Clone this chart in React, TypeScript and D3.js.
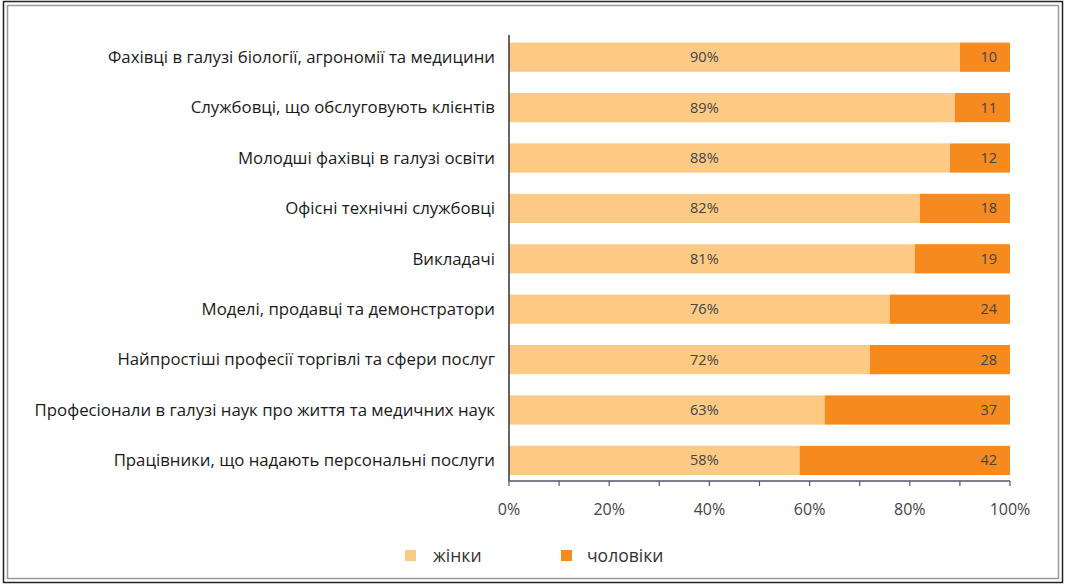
import React from "react";
import * as d3 from "d3";

const categories = [
  "Фахівці в галузі біології, агрономії та медицини",
  "Службовці, що обслуговують клієнтів",
  "Молодші фахівці в галузі освіти",
  "Офісні технічні службовці",
  "Викладачі",
  "Моделі, продавці та демонстратори",
  "Найпростіші професії торгівлі та сфери послуг",
  "Професіонали в галузі наук про життя та медичних наук",
  "Працівники, що надають персональні послуги",
];
const women = [90, 89, 88, 82, 81, 76, 72, 63, 58];
const men = [10, 11, 12, 18, 19, 24, 28, 37, 42];
const xTicks = [0, 20, 40, 60, 80, 100];
const minorTicks = [0, 10, 20, 30, 40, 50, 60, 70, 80, 90, 100];
const seriesNames = ["жінки", "чоловіки"];

const W = 1065;
const H = 585;
const C_WOMEN = "#FDCA86";
const C_MEN = "#F68A1F";
const FONT = "'Open Sans', 'Noto Sans', sans-serif";

export default function App() {
  const x = d3.scaleLinear().domain([0, 100]).range([509, 1010]);
  const y = d3
    .scaleBand<string>()
    .domain(categories)
    .range([32, 485.6])
    .paddingInner(0.42)
    .paddingOuter(0.21);
  const bw = y.bandwidth();
  const axisY = 481;

  return (
    <svg
      width={W}
      height={H}
      style={{ position: "absolute", left: 0, top: 0, background: "#fff" }}
      fontFamily={FONT}
    >
      <rect x={0} y={0} width={W} height={H} fill="#fff" />
      <rect x={3.5} y={1.5} width={1059} height={581} fill="none" stroke="#222" strokeWidth={1.5} />
      <rect x={7.5} y={5.5} width={1051} height={573} fill="none" stroke="#999" strokeWidth={1.5} />

      {categories.map((c, i) => {
        const yy = y(c)!;
        const cy = yy + bw / 2;
        return (
          <g key={c}>
            <rect x={x(0)} y={yy} width={x(women[i]) - x(0)} height={bw} fill={C_WOMEN} />
            <rect x={x(women[i])} y={yy} width={x(100) - x(women[i])} height={bw} fill={C_MEN} />
            <text x={x(39)} y={cy} dy="0.35em" textAnchor="middle" fontSize={14.5} fill="#444">
              {women[i]}%
            </text>
            <text x={x(100) - 13} y={cy} dy="0.35em" textAnchor="end" fontSize={14.5} fill="#444">
              {men[i]}
            </text>
            <text x={495} y={cy} dy="0.35em" textAnchor="end" fontSize={16.8} fill="#1a1a1a">
              {c}
            </text>
          </g>
        );
      })}

      <line x1={x(0)} x2={x(0)} y1={35} y2={axisY} stroke="#333" strokeWidth={1.5} />
      <line x1={x(0)} x2={x(100)} y1={axisY} y2={axisY} stroke="#556" strokeWidth={1.5} />
      {minorTicks.map((t) => (
        <line key={t} x1={x(t)} x2={x(t)} y1={axisY} y2={axisY + 5} stroke="#556" strokeWidth={1.2} />
      ))}
      {xTicks.map((t) => (
        <text key={t} x={x(t)} y={515} textAnchor="middle" fontSize={16} fill="#444">
          {t}%
        </text>
      ))}

      <rect x={405} y={550} width={11} height={11} fill={C_WOMEN} />
      <text x={433} y={556} dy="0.35em" fontSize={17.5} fill="#333">
        {seriesNames[0]}
      </text>
      <rect x={561} y={550} width={11} height={11} fill={C_MEN} />
      <text x={587} y={556} dy="0.35em" fontSize={17.5} fill="#333">
        {seriesNames[1]}
      </text>
    </svg>
  );
}
